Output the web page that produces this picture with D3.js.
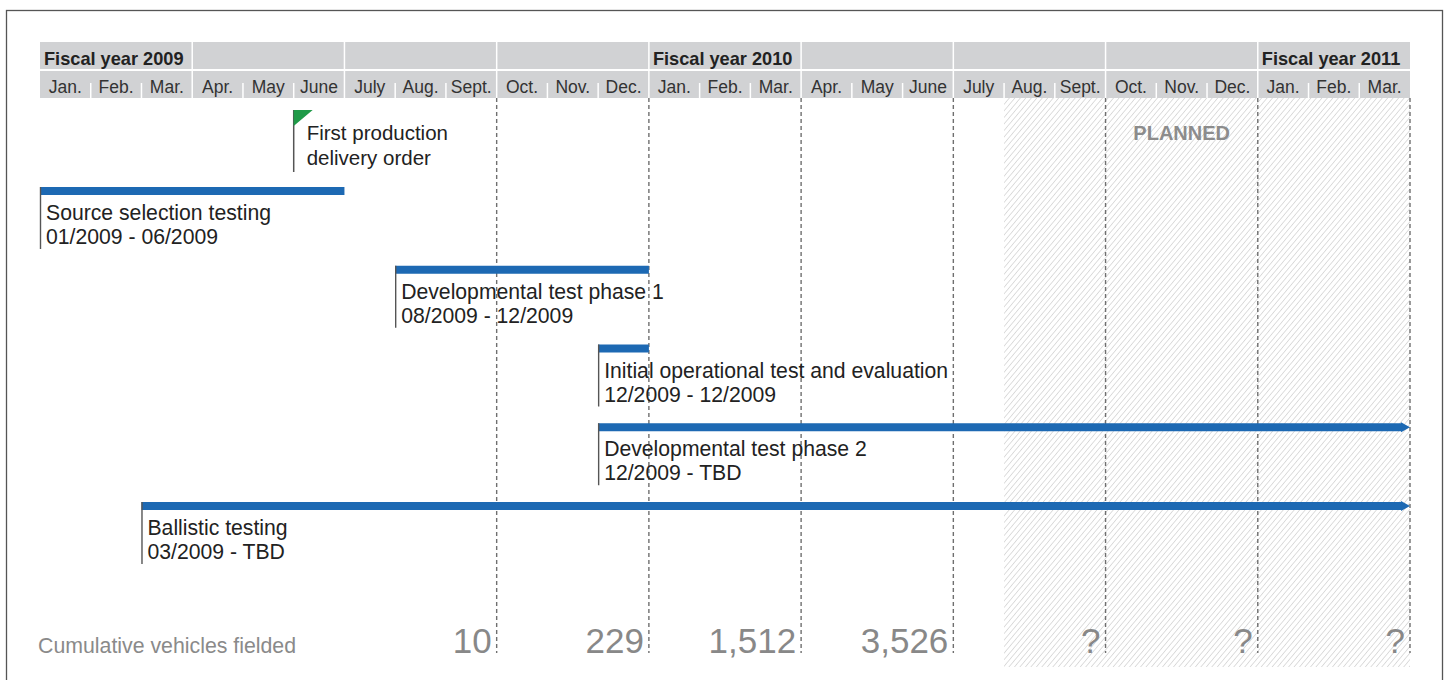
<!DOCTYPE html>
<html>
<head>
<meta charset="utf-8">
<script src="https://cdn.jsdelivr.net/npm/d3@7"></script>
<style>
  body { margin: 0; background: #fff; }
  svg { display: block; font-family: "Liberation Sans", Arial, sans-serif; }
</style>
</head>
<body>
<div id="chart"></div>
<script>
// month labels, Jan 2009 .. Mar 2011
var monthLabels = ["Jan.", "Feb.", "Mar.", "Apr.", "May", "June", "July", "Aug.", "Sept.", "Oct.", "Nov.", "Dec.",
                   "Jan.", "Feb.", "Mar.", "Apr.", "May", "June", "July", "Aug.", "Sept.", "Oct.", "Nov.", "Dec.",
                   "Jan.", "Feb.", "Mar."];
// one label per quarter cell of the top row
var quarterLabels = ["Fiscal year 2009", "", "", "", "Fiscal year 2010", "", "", "", "Fiscal year 2011"];

var taskNames = ["Source selection testing", "Developmental test phase 1",
                 "Initial operational test and evaluation", "Developmental test phase 2", "Ballistic testing"];
var taskStart = ["2009-01", "2009-08", "2009-12", "2009-12", "2009-03"];
var taskEnd = ["2009-06", "2009-12", "2009-12", null, null]; // null = TBD, runs off the chart
var taskDates = ["01/2009 - 06/2009", "08/2009 - 12/2009", "12/2009 - 12/2009", "12/2009 - TBD", "03/2009 - TBD"];

var milestoneMonth = "2009-06";
var milestoneText = ["First production", "delivery order"];

var plannedFrom = "2010-08";

var fieldedQuarterEnd = ["2009-09", "2009-12", "2010-03", "2010-06", "2010-09", "2010-12", "2011-03"];
var fieldedCounts = ["10", "229", "1,512", "3,526", "?", "?", "?"];

var W = 1447, H = 680;
var svg = d3.select("#chart").append("svg").attr("width", W).attr("height", H);

function monthIndex(s) {
  var p = s.split("-");
  return (+p[0] - 2009) * 12 + (+p[1] - 1);
}

var x = d3.scaleLinear().domain([0, monthLabels.length]).range([40, 1410]);
var y = d3.scaleLinear().domain([0, taskNames.length - 1]).range([187, 502]);
var barH = 8;
var headTop = 42, headMid = 70, headBot = 98;
var bodyBot = 653;

// frame
svg.append("rect").attr("x", 6.5).attr("y", 10.5).attr("width", 1436).attr("height", 700)
  .attr("fill", "none").attr("stroke", "#555").attr("stroke-width", 1.3);

// hatch pattern for planned area
var defs = svg.append("defs");
var pat = defs.append("pattern").attr("id", "hatch").attr("patternUnits", "userSpaceOnUse")
  .attr("width", 4.2).attr("height", 4.2).attr("patternTransform", "rotate(40)");
pat.append("line").attr("x1", 0).attr("y1", 0).attr("x2", 0).attr("y2", 4.2)
  .attr("stroke", "#bdbdbd").attr("stroke-width", 1);

svg.append("rect")
  .attr("x", x(monthIndex(plannedFrom))).attr("y", headBot)
  .attr("width", x(monthLabels.length) - x(monthIndex(plannedFrom)))
  .attr("height", 667 - headBot)
  .attr("fill", "url(#hatch)");

svg.append("text")
  .attr("x", (x(21) + x(24)) / 2).attr("y", 140)
  .attr("text-anchor", "middle").attr("font-weight", "bold").attr("font-size", 20)
  .attr("fill", "#8c8c8c").text("PLANNED");

// header
svg.append("rect").attr("x", x(0)).attr("y", headTop)
  .attr("width", x(monthLabels.length) - x(0)).attr("height", headBot - headTop)
  .attr("fill", "#d1d2d4");
svg.append("line").attr("x1", x(0)).attr("x2", x(monthLabels.length))
  .attr("y1", headMid).attr("y2", headMid).attr("stroke", "#fff").attr("stroke-width", 2);

quarterLabels.forEach(function (q, i) {
  if (i > 0) {
    svg.append("line").attr("x1", x(i * 3)).attr("x2", x(i * 3))
      .attr("y1", headTop).attr("y2", headBot).attr("stroke", "#fff").attr("stroke-width", 1.5);
  }
  if (q) {
    svg.append("text").attr("x", x(i * 3) + 4).attr("y", 65)
      .attr("font-size", 18.2).attr("font-weight", "bold").attr("fill", "#222").text(q);
  }
});

monthLabels.forEach(function (m, i) {
  if (i % 3 != 0) {
    svg.append("line").attr("x1", x(i)).attr("x2", x(i))
      .attr("y1", 83).attr("y2", headBot).attr("stroke", "#fff").attr("stroke-width", 1.5);
  }
  svg.append("text").attr("x", (x(i) + x(i + 1)) / 2).attr("y", 93)
    .attr("text-anchor", "middle").attr("font-size", 17.5).attr("fill", "#333").text(m);
});

// dashed quarter lines
fieldedQuarterEnd.forEach(function (q) {
  var xx = x(monthIndex(q) + 1);
  svg.append("line").attr("x1", xx).attr("x2", xx).attr("y1", headBot).attr("y2", bodyBot)
    .attr("stroke", "#6f6f6f").attr("stroke-width", 1.4).attr("stroke-dasharray", "4,3");
});

// milestone flag
var fx = x(monthIndex(milestoneMonth));
svg.append("line").attr("x1", fx).attr("x2", fx).attr("y1", 110).attr("y2", 172)
  .attr("stroke", "#555").attr("stroke-width", 1.5);
svg.append("path").attr("d", "M" + fx + ",110 L" + (fx + 19) + ",110 L" + fx + ",126 Z").attr("fill", "#1f9a48");
milestoneText.forEach(function (t, i) {
  svg.append("text").attr("x", fx + 13).attr("y", 140 + i * 25)
    .attr("font-size", 20.5).attr("fill", "#222").text(t);
});

// task bars
taskNames.forEach(function (name, i) {
  var x0 = x(monthIndex(taskStart[i]));
  var top = y(i);
  var open = taskEnd[i] == null;
  var x1 = open ? x(monthLabels.length) - 9 : x(monthIndex(taskEnd[i]) + 1);
  svg.append("rect").attr("x", x0).attr("y", top).attr("width", x1 - x0).attr("height", barH)
    .attr("fill", "#1d69b3");
  if (open) {
    svg.append("path")
      .attr("d", "M" + x1 + "," + (top - 1) + " L" + (x1 + 9) + "," + (top + barH / 2) + " L" + x1 + "," + (top + barH + 1) + " Z")
      .attr("fill", "#1d69b3");
  }
  svg.append("line").attr("x1", x0 + 0.5).attr("x2", x0 + 0.5).attr("y1", top).attr("y2", top + 62)
    .attr("stroke", "#555").attr("stroke-width", 1.4);
  svg.append("text").attr("x", x0 + 6).attr("y", top + 33)
    .attr("font-size", 21.2).attr("fill", "#222").text(name);
  svg.append("text").attr("x", x0 + 6).attr("y", top + 57)
    .attr("font-size", 21.2).attr("fill", "#222").text(taskDates[i]);
});

// cumulative vehicles fielded
svg.append("text").attr("x", 38).attr("y", 653).attr("font-size", 21.3)
  .attr("fill", "#8a8a8a").text("Cumulative vehicles fielded");
fieldedQuarterEnd.forEach(function (q, i) {
  svg.append("text").attr("x", x(monthIndex(q) + 1) - 5).attr("y", 653)
    .attr("text-anchor", "end").attr("font-size", 35).attr("fill", "#888").text(fieldedCounts[i]);
});
</script>
</body>
</html>
